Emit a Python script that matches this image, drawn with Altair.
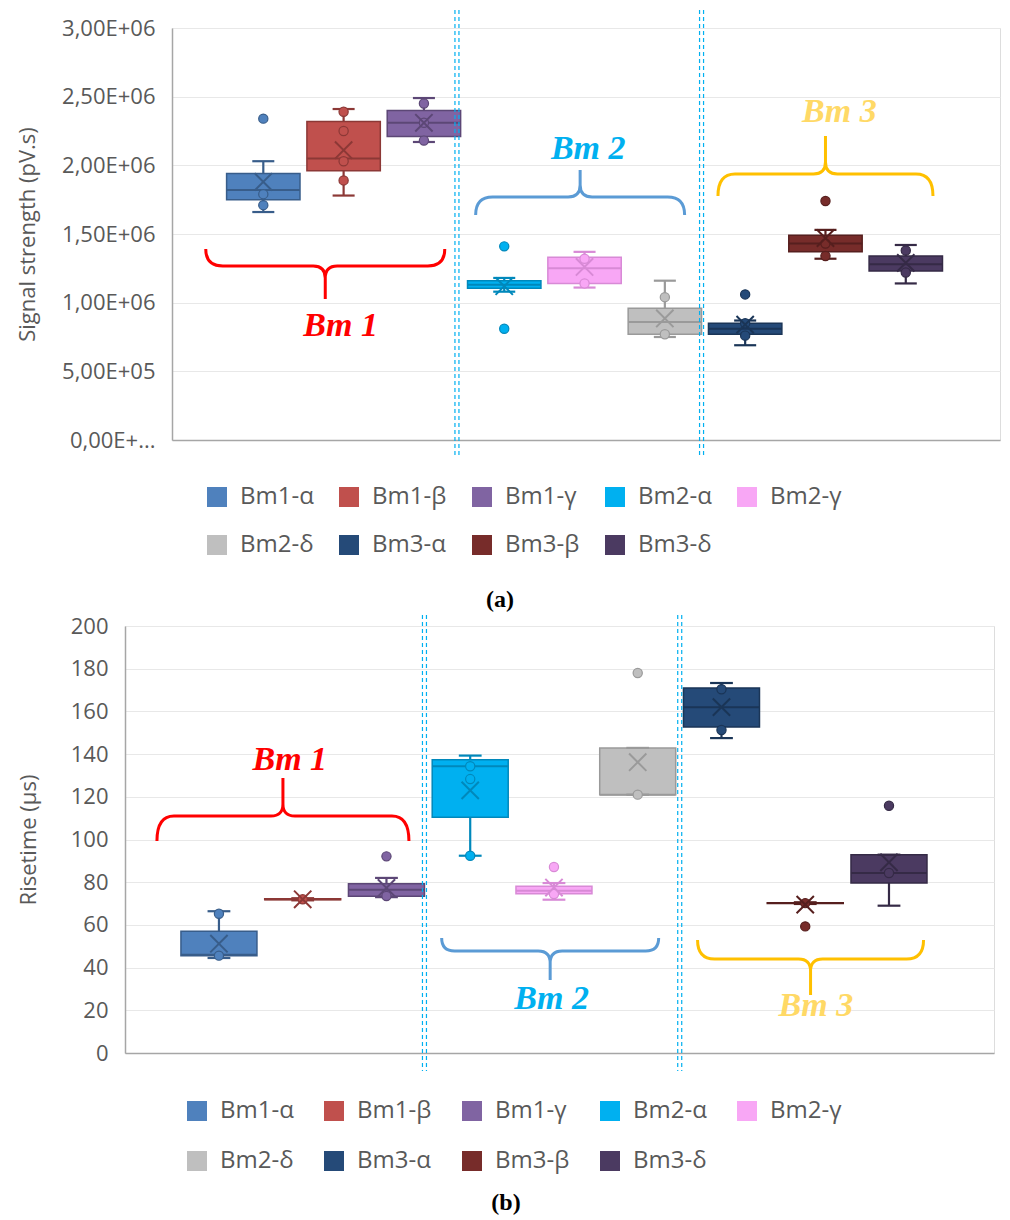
import altair as alt
import pandas as pd

series = ["Bm1-α", "Bm1-β", "Bm1-γ", "Bm2-α", "Bm2-γ", "Bm2-δ", "Bm3-α", "Bm3-β", "Bm3-δ"]
fill_colors = ["#4F81BD", "#C0504D", "#8064A2", "#00B0F0", "#F8A7F5", "#BFBFBF", "#254A78", "#772C2A", "#4B3A61"]
edge_colors = ["#385D8A", "#8C3836", "#5C4776", "#0088BB", "#D88AD6", "#9A9A9A", "#1A3557", "#561F1E", "#352A46"]

# ---------- (a) Signal strength (pV.s) ----------
a_low = [1.66e6, 1.78e6, 2.17e6, 1.08e6, 1.11e6, 0.75e6, 0.69e6, 1.32e6, 1.14e6]
a_q1 = [1.75e6, 1.96e6, 2.21e6, 1.105e6, 1.14e6, 0.77e6, 0.77e6, 1.37e6, 1.23e6]
a_median = [1.82e6, 2.05e6, 2.31e6, 1.13e6, 1.25e6, 0.86e6, 0.81e6, 1.43e6, 1.28e6]
a_q3 = [1.94e6, 2.32e6, 2.40e6, 1.16e6, 1.33e6, 0.96e6, 0.85e6, 1.49e6, 1.34e6]
a_high = [2.03e6, 2.41e6, 2.49e6, 1.18e6, 1.37e6, 1.16e6, 0.87e6, 1.53e6, 1.42e6]
a_mean = [1.88e6, 2.11e6, 2.31e6, 1.12e6, 1.26e6, 0.885e6, 0.84e6, 1.47e6, 1.29e6]
a_points = [[2.34e6, 1.79e6, 1.71e6], [2.39e6, 2.25e6, 2.03e6, 1.89e6], [2.45e6, 2.31e6, 2.18e6],
            [1.41e6, 0.81e6], [1.32e6, 1.14e6], [1.04e6, 0.77e6],
            [1.06e6, 0.85e6, 0.76e6], [1.74e6, 1.43e6, 1.34e6], [1.38e6, 1.22e6]]
a_ticks = [0, 5e5, 1e6, 1.5e6, 2e6, 2.5e6, 3e6]
a_tick_labels = ["0,00E+...", "5,00E+05", "1,00E+06", "1,50E+06", "2,00E+06", "2,50E+06", "3,00E+06"]

# ---------- (b) Risetime (µs) ----------
b_low = [44.5, 71.5, 73.0, 92.4, 71.8, 121.0, 147.5, 69.8, 69.0]
b_q1 = [45.6, 71.8, 73.4, 110.4, 74.6, 121.0, 152.7, 70.0, 79.6]
b_median = [46.0, 72.0, 76.5, 134.3, 76.0, 121.0, 161.9, 70.2, 84.3]
b_q3 = [57.0, 72.3, 79.3, 137.4, 78.1, 142.9, 171.0, 70.4, 92.9]
b_high = [66.4, 72.5, 82.0, 139.3, 79.6, 142.9, 173.3, 70.6, 92.9]
b_mean = [51.2, 72.0, 77.3, 123.0, 77.5, 136.2, 162.0, 69.5, 89.3]
b_points = [[65.2, 45.6], [72.0], [92.1, 73.5], [134.3, 128.3, 92.4], [87.1, 74.5],
            [178.0, 121.0], [170.4, 151.3], [70.2, 59.3], [115.8, 84.3]]
b_ticks = [0, 20, 40, 60, 80, 100, 120, 140, 160, 180, 200]
b_tick_labels = [str(t) for t in b_ticks]

# ---------- annotations (group braces and labels) ----------
group_labels = ["Bm 1", "Bm 2", "Bm 3"]
brace_colors = ["#FF0000", "#5B9BD5", "#FFC000"]
label_colors = ["#FF0000", "#00B0F0", "#FFD966"]
anchor_cats = ["Bm1-β", "Bm2-γ", "Bm3-β"]

a_brace_band = [0.25, 0.44, 0.50]
a_brace_y = [1.267e6, 1.77e6, 1.937e6]
a_brace_w = [239, 209, 215]
a_brace_end = [17, 18, 22]
a_brace_tip = [33, 27, 38]
a_brace_dir = [1, -1, -1]
a_label_band = [0.46, 0.55, 0.69]
a_label_y = [0.83e6, 2.12e6, 2.39e6]

b_brace_band = [0.24, 0.45, 0.57]
b_brace_y = [111.0, 47.8, 44.0]
b_brace_w = [252, 217, 226]
b_brace_end = [25, 13, 19]
b_brace_tip = [38, 29, 36]
b_brace_dir = [-1, 1, 1]
b_label_band = [0.33, 0.47, 0.64]
b_label_y = [137.2, 25.3, 22.0]

TEXT = "#595959"
FONT = "Open Sans"
XPATH = "M-1,-1L1,1M-1,1L1,-1"


def brace_path(w, end_h, tip_h, d):
    r = w / 2.0
    A = end_h / r
    B = tip_h / r
    R = min(end_h, 17) / r
    C = 12.0 / r
    ey = -d * A
    ty = d * B
    cy = d * C
    f = lambda v: f"{v:.4f}"
    return (f"M-1,{f(ey)} Q-1,0 {f(-1 + R)},0 L{f(-C)},0 Q0,0 0,{f(cy)} L0,{f(ty)} "
            f"M0,{f(cy)} Q0,0 {f(C)},0 L{f(1 - R)},0 Q1,0 1,{f(ey)}")


def panel(low, q1, med, q3, high, mean, points, ticks, tick_labels, ytitle,
          width, height, pin, pout, align, title_pad, label_pad, label_size,
          legend_x, legend_y, col_pad, row_pad,
          seps, sep_y0, sep_y1,
          brace_band, brace_y, brace_w, brace_end, brace_tip, brace_dir,
          label_band, label_y, caption, cap_x, cap_y):
    edge_of = dict(zip(series, edge_colors))
    stats = pd.DataFrame({"series": series, "edge": edge_colors, "low": low, "q1": q1,
                          "median": med, "q3": q3, "high": high, "mean": mean})
    pts = pd.DataFrame([(s, edge_of[s], v) for s, vals in zip(series, points) for v in vals],
                       columns=["series", "edge", "value"])
    xscale = alt.Scale(domain=series, paddingInner=pin, paddingOuter=pout, align=align)
    xaxis = alt.Axis(labels=False, ticks=False, title=None, domain=True,
                     domainColor="#A6A6A6", domainWidth=1.5, grid=False)
    xenc = alt.X("series:N", scale=xscale, axis=xaxis)
    label_expr = ("[" + ",".join("'" + t + "'" for t in tick_labels) + "][indexof(["
                  + ",".join(repr(float(v)) for v in ticks) + "], datum.value)]")
    yscale = alt.Scale(domain=[ticks[0], ticks[-1]], nice=False, zero=True)
    yaxis = alt.Axis(values=ticks, labelExpr=label_expr, title=ytitle, grid=True,
                     gridColor="#E8E8E8", gridWidth=1.2, ticks=False, domainColor="#A6A6A6",
                     domainWidth=1.5, labelPadding=label_pad, titlePadding=title_pad,
                     labelFontSize=label_size, titleFontSize=22, labelFont=FONT,
                     titleFont=FONT, labelColor=TEXT, titleColor=TEXT,
                     titleFontWeight="normal")
    legend = alt.Legend(orient="none", legendX=legend_x, legendY=legend_y, columns=5,
                        symbolType="square", symbolSize=400, labelFontSize=24,
                        labelFont=FONT, labelColor=TEXT, labelOffset=11,
                        columnPadding=col_pad, rowPadding=row_pad, padding=0,
                        direction="horizontal", labelLimit=300)
    color = alt.Color("series:N", scale=alt.Scale(domain=series, range=fill_colors),
                      legend=legend, title="")
    stroke = alt.Stroke("edge:N", scale=None)

    base = alt.Chart(stats)
    whisk = base.mark_rule(strokeWidth=2.2).encode(
        x=xenc, y=alt.Y("low:Q", scale=yscale, axis=yaxis), y2="high:Q", stroke=stroke)
    box = base.mark_bar(strokeWidth=1.5).encode(x=xenc, y="q1:Q", y2="q3:Q", color=color, stroke=stroke)
    median = base.mark_rule(strokeWidth=2).encode(
        x=alt.X("series:N", bandPosition=0), x2=alt.X2("series", bandPosition=1),
        y="median:Q", stroke=stroke)
    cap_lo = base.mark_rule(strokeWidth=2.2).encode(
        x=alt.X("series:N", bandPosition=0.35), x2=alt.X2("series", bandPosition=0.65),
        y="low:Q", stroke=stroke)
    cap_hi = base.mark_rule(strokeWidth=2.2).encode(
        x=alt.X("series:N", bandPosition=0.35), x2=alt.X2("series", bandPosition=0.65),
        y="high:Q", stroke=stroke)
    dots = alt.Chart(pts).mark_point(shape="circle", filled=True, size=85, strokeWidth=1.2,
                                     opacity=1).encode(x=xenc, y="value:Q", color=color, stroke=stroke)
    means = base.mark_point(shape=XPATH, filled=False, size=300, strokeWidth=2,
                            opacity=1).encode(x=xenc, y="mean:Q", stroke=stroke)

    layers = [whisk, box, median, cap_lo, cap_hi, dots, means]

    one = pd.DataFrame({"k": [0]})
    for cat, bp, shift in seps:
        for off in (-2, 2):
            layers.append(alt.Chart(one).mark_rule(color="#00B0F0", strokeDash=[4, 3],
                                                   strokeWidth=1.2, xOffset=off + shift).encode(
                x=alt.XDatum(cat, bandPosition=bp), y=alt.value(sep_y0), y2=alt.value(sep_y1)))

    for i in range(3):
        path = brace_path(brace_w[i], brace_end[i], brace_tip[i], brace_dir[i])
        layers.append(alt.Chart(one).mark_point(shape=path, filled=False, size=brace_w[i] ** 2,
                                                strokeWidth=3, opacity=1,
                                                color=brace_colors[i]).encode(
            x=alt.XDatum(anchor_cats[i], bandPosition=brace_band[i]),
            y=alt.YDatum(brace_y[i])))
        layers.append(alt.Chart(pd.DataFrame({"t": [group_labels[i]]})).mark_text(
            font="Liberation Serif", fontSize=34, fontWeight="bold", fontStyle="italic",
            color=label_colors[i], align="center", baseline="middle").encode(
            x=alt.XDatum(anchor_cats[i], bandPosition=label_band[i]),
            y=alt.YDatum(label_y[i]), text="t:N"))

    layers.append(alt.Chart(pd.DataFrame({"t": [caption]})).mark_text(
        font="Liberation Serif", fontSize=24, fontWeight="bold", color="#000000",
        align="center", baseline="middle").encode(
        x=alt.value(cap_x), y=alt.value(cap_y), text="t:N"))

    return alt.layer(*layers).properties(width=width, height=height)


def spacer():
    return alt.Chart(pd.DataFrame({"k": [0]})).mark_point(opacity=0).encode(
        x=alt.value(0), y=alt.value(0)).properties(
        width=1, height=1, view=alt.ViewBackground(stroke=None))


top = panel(a_low, a_q1, a_median, a_q3, a_high, a_mean, a_points, a_ticks, a_tick_labels,
            "Signal strength (pV.s)", 828, 412, 0.086, 0.698, 0.487, 22, 17, 22,
            33, 457, 23, 24,
            [("Bm1-γ", 0.95, 0), ("Bm2-δ", 1.0, 0)], -18, 430,
            a_brace_band, a_brace_y, a_brace_w, a_brace_end, a_brace_tip, a_brace_dir,
            a_label_band, a_label_y, "(a)", 328, 572)

bottom = panel(b_low, b_q1, b_median, b_q3, b_high, b_mean, b_points, b_ticks, b_tick_labels,
               "Risetime (µs)", 869, 427, 0.0925, 0.734, 0.455, 30, 17, 22,
               60, 473, 28, 26,
               [("Bm1-γ", 1.0, 0), ("Bm2-δ", 1.0, 4)], -11, 445,
               b_brace_band, b_brace_y, b_brace_w, b_brace_end, b_brace_tip, b_brace_dir,
               b_label_band, b_label_y, "(b)", 381, 577)

row_a = alt.hconcat(spacer(), top, spacing=0).resolve_scale(color="independent")
row_b = alt.hconcat(spacer(), bottom, spacing=0).resolve_scale(color="independent")

chart = alt.vconcat(row_a, row_b, spacing=0).resolve_scale(color="independent").properties(
    padding={"left": 2, "top": 0, "right": 0, "bottom": 0}
).configure_view(stroke="#BFBFBF", strokeWidth=1).configure(background="white")

chart.save("out.html", embed_options={"renderer": "svg", "actions": False})
